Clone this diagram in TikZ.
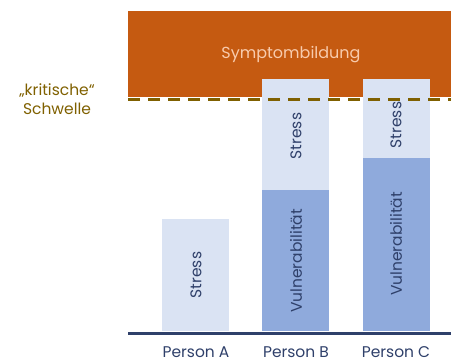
\documentclass[tikz,border=0pt]{standalone}
\usepackage{fontspec}
\setmainfont{Poppins}
\usetikzlibrary{positioning,calc}
\definecolor{symptomorange}{RGB}{197,90,17}
\definecolor{stresslight}{RGB}{218,227,243}
\definecolor{vulnblue}{RGB}{143,170,220}
\definecolor{navytext}{RGB}{47,64,106}
\definecolor{thresholdbrown}{RGB}{127,96,0}
\definecolor{peachtext}{RGB}{248,203,173}

\begin{document}
\begin{tikzpicture}[
  x=1pt,y=-1pt,
  stressbar/.style={fill=stresslight},
  vulnbar/.style={fill=vulnblue},
  barlabel/.style={font=\fontsize{15.5}{18}\selectfont,text=navytext,rotate=90},
  personlabel/.style={font=\fontsize{15.5}{18}\selectfont,text=navytext,inner sep=0pt},
  schwellelabel/.style={font=\fontsize{15.5}{18.5}\selectfont,text=thresholdbrown,align=center},
  thresholdline/.style={draw=thresholdbrown,line width=3pt,dash pattern=on 12pt off 8pt},
  baseline/.style={draw=navytext,line width=2.6pt}
]
\useasboundingbox (0,0) rectangle (451,362);

% Symptombildung
\fill[symptomorange] (128,11) rectangle (451,97);
\node[font=\fontsize{16}{19}\selectfont,text=peachtext] (symptom) at (291,55) {Symptombildung};

% bars
\fill[stressbar] (162,219) rectangle (229,331);
\fill[stressbar] (262,79) rectangle (329,190);
\fill[vulnbar]   (262,190) rectangle (329,331);
\fill[stressbar] (363,79) rectangle (430,158);
\fill[vulnbar]   (363,158) rectangle (430,331);

\node[barlabel] (stressA) at (196,275) {Stress};
\node[barlabel] (stressB) at (296,136) {Stress};
\node[barlabel] (vulnB)   at (296,261) {Vulnerabilität};
\node[barlabel] (stressC) at (396,125) {Stress};
\node[barlabel] (vulnC)   at (396,244) {Vulnerabilität};

% kritische Schwelle
\coordinate (schwelleL) at (128,99);
\coordinate (schwelleR) at (451,99);
\draw[thresholdline] (schwelleL) -- (schwelleR);
\node[schwellelabel] (schwelle) at (57,99) {„kritische“\\Schwelle};

% Achse
\coordinate (achseL) at (128,333.5);
\coordinate (achseR) at (451,333.5);
\draw[baseline] (achseL) -- (achseR);

\foreach \x/\lab in {196/A,296/B,396/C}{
  \node[personlabel] (person\lab) at (\x,352.5) {Person \lab};
}
\end{tikzpicture}
\end{document}
